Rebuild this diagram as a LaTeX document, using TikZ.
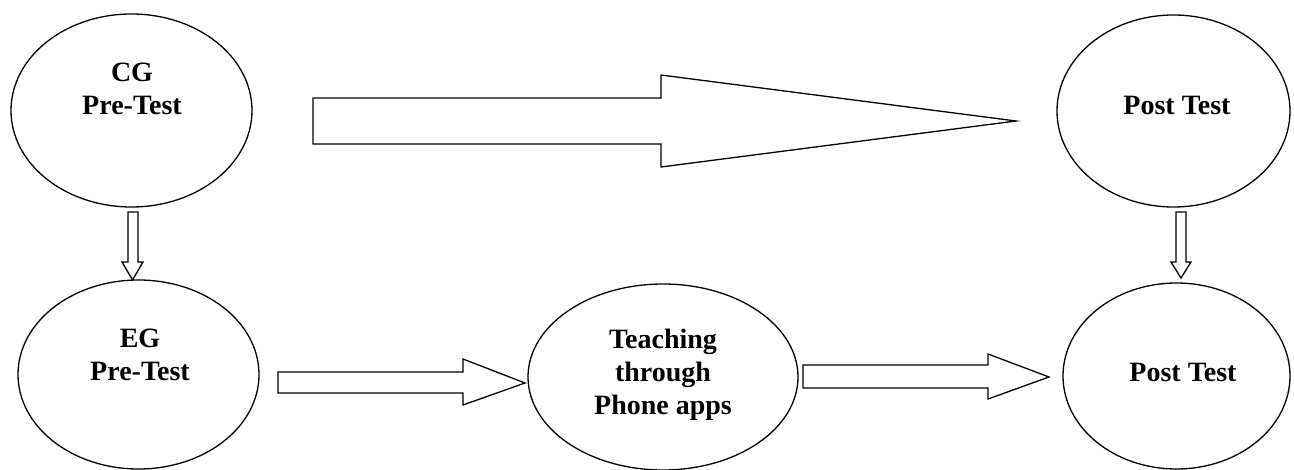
\documentclass[tikz,border=0pt]{standalone}
\usepackage{fontspec}
\setmainfont{Liberation Serif}
\usetikzlibrary{shapes.geometric}
\tikzset{
  ell/.style={draw, line width=1.3pt, ellipse, inner sep=0pt},
  lbl/.style={inner sep=0pt, align=center, font=\bfseries\fontsize{28}{33}\selectfont},
  blockarrow/.style={draw, line width=1.3pt, fill=white, line join=miter}
}
\begin{document}
\begin{tikzpicture}[x=1pt,y=-1pt]
\useasboundingbox (0,0) rectangle (1294,470);
% ellipses
\node[ell, minimum width=241pt, minimum height=193pt] (cg) at (131.5,110.5) {};
\node[ell, minimum width=233pt, minimum height=192pt] (postA) at (1173.5,111) {};
\node[ell, minimum width=241pt, minimum height=189pt] (eg) at (138.5,374.5) {};
\node[ell, minimum width=270pt, minimum height=186pt] (teach) at (663,377) {};
\node[ell, minimum width=227pt, minimum height=186pt] (postB) at (1176.5,376) {};
% labels
\node[lbl] (cgt) at (132,89) {CG\\Pre-Test};
\node[lbl] (egt) at (140,355) {EG\\Pre-Test};
\node[lbl] (pat) at (1177,105) {Post Test};
\node[lbl] (pbt) at (1183,372) {Post Test};
\node[lbl] (tt) at (663,375) {Teaching\\through\\Phone apps};
% big arrow CG -> Post
\draw[blockarrow] (313,98) -- (661,98) -- (661,75) -- (1016,121) -- (661,167) -- (661,144) -- (313,144) -- cycle;
% EG -> Teaching
\draw[blockarrow] (278,372) -- (463,372) -- (463,359) -- (525,383) -- (463,405) -- (463,393) -- (278,393) -- cycle;
% Teaching -> Post
\draw[blockarrow] (803,365) -- (988,365) -- (988,354) -- (1049,377) -- (988,399) -- (988,388) -- (803,388) -- cycle;
% CG -> EG
\draw[blockarrow] (128,212) -- (138,212) -- (138,262) -- (143,262) -- (132.5,280) -- (122,262) -- (128,262) -- cycle;
% Post -> Post
\draw[blockarrow] (1176,212) -- (1186,212) -- (1186,262) -- (1191,262) -- (1181,278) -- (1171,262) -- (1176,262) -- cycle;
\end{tikzpicture}
\end{document}
